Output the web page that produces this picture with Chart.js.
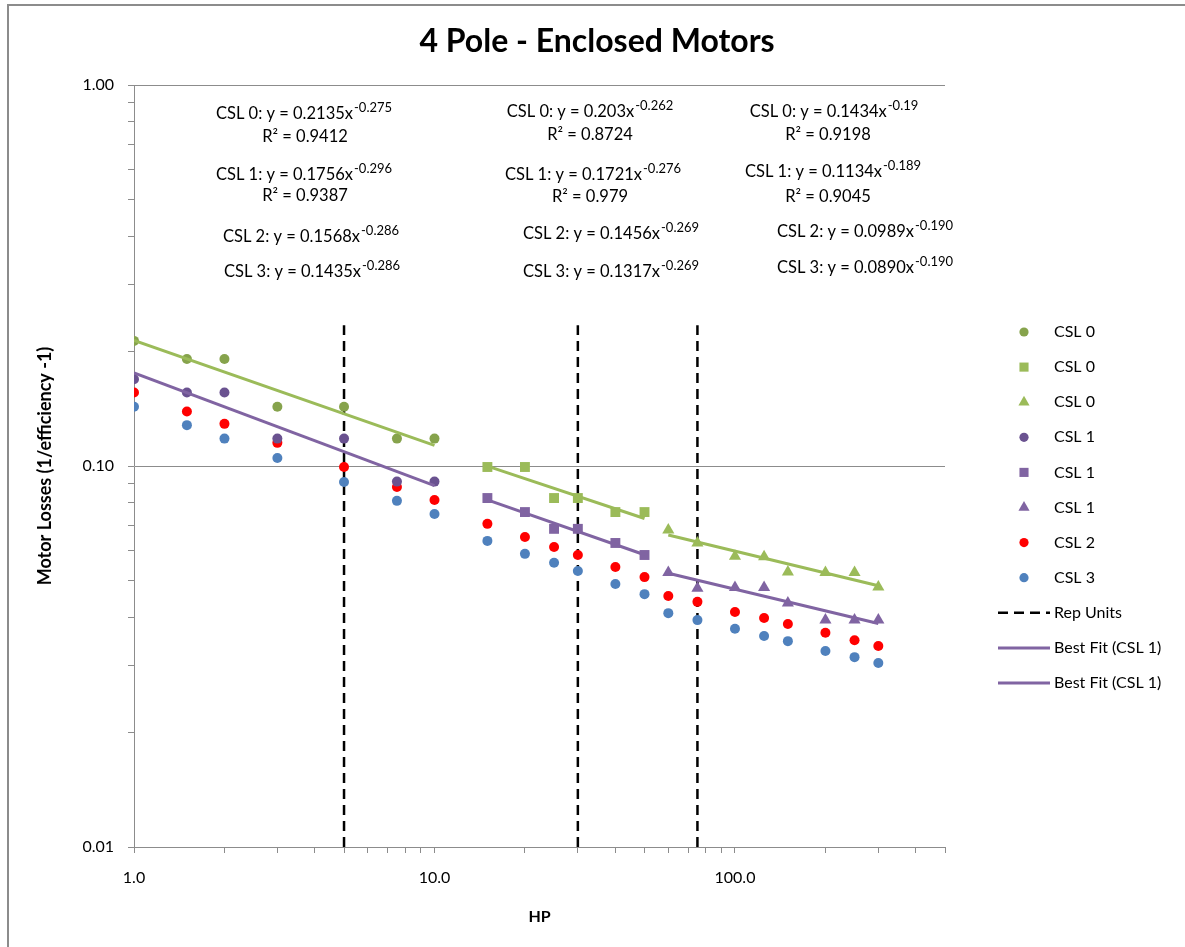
<!DOCTYPE html>
<html>
<head>
<meta charset="utf-8">
<title>4 Pole - Enclosed Motors</title>
<script src="https://cdn.jsdelivr.net/npm/chart.js@4.4.1/dist/chart.umd.min.js"></script>
<style>
    html, body { margin: 0; padding: 0; background: #fff; }
    #wrap { width: 1185px; height: 947px; }
</style>
</head>
<body>
<div id="wrap"><canvas id="motor-chart" width="1185" height="947"></canvas></div>
<script>
// 马力分组
const hpSmall = [1, 1.5, 2, 3, 5, 7.5, 10];
const hpMid = [15, 20, 25, 30, 40, 50];
const hpLarge = [60, 75, 100, 125, 150, 200, 250, 300];
const hpAll = hpSmall.concat(hpMid, hpLarge);

// 损耗数据 (1/efficiency - 1)
const csl0Small = [0.213, 0.191, 0.191, 0.143, 0.143, 0.118, 0.118];
const csl0Mid = [0.0994, 0.0994, 0.0824, 0.0824, 0.0757, 0.0757];
const csl0Large = [0.0679, 0.0628, 0.0580, 0.0578, 0.0527, 0.0525, 0.0525, 0.0481];
const csl1Small = [0.169, 0.156, 0.156, 0.118, 0.118, 0.091, 0.091];
const csl1Mid = [0.0824, 0.0757, 0.0684, 0.0684, 0.0628, 0.0584];
const csl1Large = [0.0525, 0.0478, 0.0480, 0.0480, 0.0437, 0.0394, 0.0394, 0.0394];
const csl2 = [0.156, 0.139, 0.129, 0.115, 0.0994, 0.0881, 0.0814,
    0.0705, 0.0651, 0.0613, 0.0584, 0.0543, 0.0511,
    0.0456, 0.0440, 0.0414, 0.0399, 0.0385, 0.0365, 0.0349, 0.0337];
const csl3 = [0.143, 0.128, 0.118, 0.105, 0.0908, 0.0810, 0.0748,
    0.0636, 0.0588, 0.0557, 0.0530, 0.0490, 0.0461,
    0.0411, 0.0394, 0.0374, 0.0358, 0.0347, 0.0327, 0.0315, 0.0304];

// 代表机型竖线
const repHp = [5, 30, 75];
const repRange = [0.01, 0.234];

// 拟合线端点
const fitHp = [[1, 10], [15, 50], [60, 300]];
const fitCsl0 = [[0.2135, 0.1133], [0.0999, 0.0728], [0.0659, 0.0485]];
const fitCsl1 = [[0.1756, 0.0888], [0.0815, 0.0585], [0.0523, 0.0386]];

// 坐标轴
const xRange = [1, 500];
const yRange = [0.01, 1];
const xMajorTicks = [1, 10, 100];
const yMajorTicks = [0.01, 0.1, 1];

const chartTitle = '4 Pole - Enclosed Motors';

// 公式文字 [正文, 上标]
const eqSmall = [['CSL 0: y = 0.2135x', '-0.275'], ['R² = 0.9412', ''], ['CSL 1: y = 0.1756x', '-0.296'],
    ['R² = 0.9387', ''], ['CSL 2: y = 0.1568x', '-0.286'], ['CSL 3: y = 0.1435x', '-0.286']];
const eqMid = [['CSL 0: y = 0.203x', '-0.262'], ['R² = 0.8724', ''], ['CSL 1: y = 0.1721x', '-0.276'],
    ['R² = 0.979', ''], ['CSL 2: y = 0.1456x', '-0.269'], ['CSL 3: y = 0.1317x', '-0.269']];
const eqLarge = [['CSL 0: y = 0.1434x', '-0.19'], ['R² = 0.9198', ''], ['CSL 1: y = 0.1134x', '-0.189'],
    ['R² = 0.9045', ''], ['CSL 2: y = 0.0989x', '-0.190'], ['CSL 3: y = 0.0890x', '-0.190']];

const FONT = 'Lato, "Open Sans", sans-serif';
Chart.defaults.font.family = FONT;
Chart.defaults.color = '#000';

function pts(xs, ys) {
    return xs.map((x, i) => ({ x: x, y: ys[i] }));
}

// 多段线，用 null 断开
function segments(xsList, ysList) {
    const out = [];
    xsList.forEach((xs, k) => {
        if (k > 0) out.push({ x: xs[0], y: null });
        xs.forEach((x, i) => out.push({ x: x, y: ysList[k][i] }));
    });
    return out;
}

function logTicks(min, max) {
    const t = [];
    for (let e = Math.floor(Math.log10(min)); e <= Math.ceil(Math.log10(max)); e++) {
        for (let k = 1; k < 10; k++) {
            const v = +(k * Math.pow(10, e)).toPrecision(6);
            if (v >= min && v <= max) t.push(v);
        }
    }
    return t;
}

function marker(label, style, color, radius, xs, ys) {
    return {
        label: label, data: pts(xs, ys), showLine: false,
        pointStyle: style, pointRadius: radius, pointHoverRadius: radius,
        backgroundColor: color, borderColor: color, pointBorderWidth: 0, order: 2
    };
}

const green = '#9BBB59', purple = '#8064A2';
const datasets = [
    marker('CSL 0', 'circle', '#86A34C', 5, hpSmall, csl0Small),
    marker('CSL 0', 'rect', green, 7, hpMid, csl0Mid),
    marker('CSL 0', 'triangle', green, 7, hpLarge, csl0Large),
    marker('CSL 1', 'circle', '#6A5290', 5, hpSmall, csl1Small),
    marker('CSL 1', 'rect', purple, 7, hpMid, csl1Mid),
    marker('CSL 1', 'triangle', purple, 7, hpLarge, csl1Large),
    marker('CSL 2', 'circle', '#FF0000', 5, hpAll, csl2),
    marker('CSL 3', 'circle', '#4F81BD', 5, hpAll, csl3),
    {
        label: 'Rep Units', data: segments(repHp.map(x => [x, x]), repHp.map(() => repRange)),
        showLine: true, spanGaps: false, pointRadius: 0, borderColor: '#000', borderWidth: 2.5,
        borderDash: [10, 6], order: 3, legendLine: true
    },
    {
        label: 'Best Fit (CSL 0)', data: segments(fitHp, fitCsl0), showLine: true, spanGaps: false,
        pointRadius: 0, borderColor: green, borderWidth: 3, order: 1, hideInLegend: true
    },
    {
        label: 'Best Fit (CSL 1)', data: segments(fitHp.slice(0, 1), fitCsl1.slice(0, 1)), showLine: true,
        pointRadius: 0, borderColor: purple, borderWidth: 3, order: 1, legendLine: true
    },
    {
        label: 'Best Fit (CSL 1)', data: segments(fitHp.slice(1), fitCsl1.slice(1)), showLine: true, spanGaps: false,
        pointRadius: 0, borderColor: purple, borderWidth: 3, order: 1, legendLine: true
    }
];

// 背景、外框与标题
const framePlugin = {
    id: 'frame',
    beforeDraw(chart) {
        const ctx = chart.ctx;
        ctx.save();
        ctx.fillStyle = '#fff';
        ctx.fillRect(0, 0, chart.width, chart.height);
        ctx.strokeStyle = '#8c8c8c';
        ctx.lineWidth = 2;
        ctx.beginPath();
        ctx.moveTo(8, chart.height);
        ctx.lineTo(8, 5);
        ctx.lineTo(chart.width, 5);
        ctx.stroke();
        ctx.fillStyle = '#000';
        ctx.font = 'bold 32px ' + FONT;
        ctx.textAlign = 'center';
        ctx.textBaseline = 'middle';
        ctx.fillText(chartTitle, 597, 42);
        ctx.restore();
    }
};

// 公式标注
const eqPlugin = {
    id: 'equations',
    afterDraw(chart) {
        const ctx = chart.ctx;
        const groups = [
            { lines: eqSmall, cx: [304, 305, 304, 305, 311, 312], by: [119, 142, 180, 201, 242, 277] },
            { lines: eqMid, cx: [590, 590, 593, 590, 611, 611], by: [117, 140, 180, 202, 239, 277] },
            { lines: eqLarge, cx: [834, 828, 833, 828, 865, 865], by: [117, 140, 177, 202, 237, 273] }
        ];
        const mainFont = '16.5px ' + FONT, supFont = '13px ' + FONT;
        ctx.save();
        ctx.fillStyle = '#000';
        ctx.textAlign = 'left';
        ctx.textBaseline = 'alphabetic';
        groups.forEach(g => {
            g.lines.forEach((ln, i) => {
                ctx.font = mainFont;
                const wb = ctx.measureText(ln[0]).width;
                ctx.font = supFont;
                const ws = ln[1] ? ctx.measureText(ln[1]).width + 1 : 0;
                const x0 = g.cx[i] - (wb + ws) / 2;
                ctx.font = mainFont;
                ctx.fillText(ln[0], x0, g.by[i]);
                if (ln[1]) {
                    ctx.font = supFont;
                    ctx.fillText(ln[1], x0 + wb + 1, g.by[i] - 7);
                }
            });
        });
        ctx.restore();
    }
};

function drawMarker(ctx, style, r, x, y) {
    ctx.beginPath();
    if (style === 'rect') {
        const s = r * Math.SQRT1_2;
        ctx.rect(x - s, y - s, 2 * s, 2 * s);
    } else if (style === 'triangle') {
        const w = r * Math.sin(Math.PI * 2 / 3);
        ctx.moveTo(x, y - r);
        ctx.lineTo(x + w, y + r / 2);
        ctx.lineTo(x - w, y + r / 2);
        ctx.closePath();
    } else {
        ctx.arc(x, y, r, 0, Math.PI * 2);
    }
    ctx.fill();
}

// 右侧图例
const sideLegend = {
    id: 'sideLegend',
    afterDraw(chart) {
        const ctx = chart.ctx;
        const items = chart.data.datasets.filter(d => !d.hideInLegend);
        ctx.save();
        ctx.font = '16px ' + FONT;
        ctx.textBaseline = 'middle';
        ctx.textAlign = 'left';
        items.forEach((d, i) => {
            const y = 332 + i * 35.1;
            if (d.legendLine) {
                ctx.strokeStyle = d.borderColor;
                ctx.lineWidth = d.borderWidth;
                ctx.setLineDash(d.borderDash || []);
                ctx.beginPath();
                ctx.moveTo(998, y);
                ctx.lineTo(1050, y);
                ctx.stroke();
                ctx.setLineDash([]);
            } else {
                ctx.fillStyle = d.backgroundColor;
                drawMarker(ctx, d.pointStyle, d.pointRadius * 0.92, 1024, y);
            }
            ctx.fillStyle = '#000';
            ctx.fillText(d.label, 1054, y);
        });
        ctx.restore();
    }
};

const isMajor = (list, v) => list.some(m => Math.abs(m - v) < 1e-9);

window.motorChart = new Chart(document.getElementById('motor-chart'), {
    type: 'scatter',
    data: { datasets: datasets },
    options: {
        responsive: false,
        animation: false,
        layout: { padding: { left: 0, right: 240, top: 85, bottom: 0 } },
        scales: {
            x: {
                type: 'logarithmic',
                min: xRange[0],
                max: xRange[1],
                afterBuildTicks: s => { s.ticks = logTicks(xRange[0], xRange[1]).map(v => ({ value: v })); },
                afterFit: s => { s.height = 100; },
                grid: { drawOnChartArea: false, tickColor: '#8c8c8c', tickLength: 6 },
                border: { color: '#8c8c8c', width: 1 },
                ticks: {
                    autoSkip: false, maxRotation: 0, padding: 15, color: '#000', font: { size: 16 },
                    callback: v => isMajor(xMajorTicks, v) ? v.toFixed(1) : ''
                },
                title: {
                    display: true, text: 'HP', color: '#000',
                    font: { size: 16, weight: 'bold' }, padding: { top: 0, bottom: 21 }
                }
            },
            y: {
                type: 'logarithmic',
                min: yRange[0],
                max: yRange[1],
                afterBuildTicks: s => { s.ticks = logTicks(yRange[0], yRange[1]).map(v => ({ value: v })); },
                afterFit: s => { s.width = 134; },
                grid: {
                    color: c => (c.tick && isMajor(yMajorTicks, c.tick.value)) ? '#8c8c8c' : 'rgba(0,0,0,0)',
                    tickColor: '#8c8c8c', tickLength: 6
                },
                border: { color: '#8c8c8c', width: 1 },
                ticks: {
                    autoSkip: false, padding: 14, color: '#000', font: { size: 16 },
                    callback: v => isMajor(yMajorTicks, v) ? v.toFixed(2) : ''
                },
                title: {
                    display: true, text: 'Motor Losses (1/efficiency -1)', color: '#000',
                    font: { size: 18, weight: 'bold' }, padding: { top: 34, bottom: 0 }
                }
            }
        },
        plugins: {
            legend: { display: false },
            tooltip: { enabled: false },
            title: { display: false }
        }
    },
    plugins: [framePlugin, eqPlugin, sideLegend]
});
</script>
</body>
</html>
